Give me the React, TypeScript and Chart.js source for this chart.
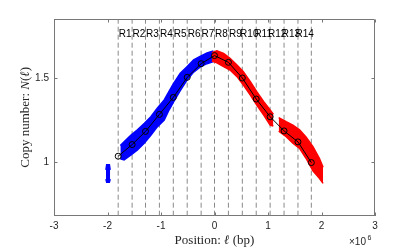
import React, { useEffect, useRef } from 'react';
import { Chart, registerables } from 'chart.js';
Chart.register(...registerables);

// Position unit: 1e6 bp
const SCALE = 1e6;
const xTicks = [-3, -2, -1, 0, 1, 2, 3];
const yTicks = [1, 1.5];
const xRange = [-3, 3];
const yRange = [0.683, 1.85];

// Region boundaries (x 1e6 bp) and labels
const boundaries = [-1.80, -1.54, -1.29, -1.03, -0.77, -0.51, -0.25, 0.0, 0.26, 0.52, 0.78, 1.04, 1.30, 1.56, 1.81];
const regionLabels = ['R1', 'R2', 'R3', 'R4', 'R5', 'R6', 'R7', 'R8', 'R9', 'R10', 'R11', 'R12', 'R13', 'R14'];
const regionLabelY = 1.76;

// Averaged copy number at each boundary
const copyNumbers = [1.036, 1.105, 1.183, 1.284, 1.385, 1.504, 1.585, 1.633, 1.593, 1.500, 1.375, 1.270, 1.186, 1.121, 0.998];

// Blue cloud (left replichore) envelope
const blueX = [-1.76, -1.69, -1.56, -1.44, -1.31, -1.19, -1.07, -0.94, -0.85, -0.77, -0.64, -0.52, -0.39, -0.27, -0.14, -0.02];
const blueTop = [1.10, 1.122, 1.162, 1.192, 1.231, 1.27, 1.32, 1.37, 1.42, 1.465, 1.528, 1.565, 1.607, 1.628, 1.648, 1.660];
const blueBottom = [1.02, 1.014, 1.043, 1.073, 1.115, 1.16, 1.21, 1.25, 1.31, 1.355, 1.425, 1.485, 1.535, 1.565, 1.585, 1.597];

// Small blue blob near -2e6
const blobX = [-2.03, -2.015, -1.965, -1.95];
const blobTop = [0.955, 0.985, 0.985, 0.955];
const blobBottom = [0.90, 0.882, 0.882, 0.90];

// Red cloud (right replichore), first segment
const redAX = [-0.05, 0.045, 0.17, 0.29, 0.42, 0.54, 0.67, 0.79, 0.92, 1.04, 1.10];
const redATop = [1.650, 1.662, 1.646, 1.617, 1.577, 1.537, 1.478, 1.419, 1.359, 1.310, 1.285];
const redABottom = [1.600, 1.590, 1.567, 1.547, 1.508, 1.458, 1.399, 1.340, 1.280, 1.221, 1.215];

// Red cloud, second segment
const redBX = [1.20, 1.34, 1.465, 1.59, 1.71, 1.84, 1.96, 2.03];
const redBTop = [1.265, 1.241, 1.221, 1.192, 1.15, 1.093, 1.024, 0.97];
const redBBottom = [1.185, 1.152, 1.113, 1.083, 1.024, 0.95, 0.905, 0.875];

const SANS = '"Liberation Sans", Arial, Helvetica, sans-serif';
const SERIF = '"Liberation Serif", "Times New Roman", serif';
const TEXT = '#262626';
const FRAME = '#777777';

export default function App() {
  const ref = useRef<HTMLCanvasElement>(null);

  useEffect(() => {
    const canvas = ref.current;
    if (!canvas) return;
    const pts = (xs: number[], ys: number[]) => xs.map((x, i) => ({ x: x * SCALE, y: ys[i] }));
    const band = (xs: number[], top: number[], bottom: number[], color: string, order: number) => [
      { data: pts(xs, top), borderColor: color, backgroundColor: color, borderWidth: 1.5, pointRadius: 0, fill: '+1', order },
      { data: pts(xs, bottom), borderColor: color, backgroundColor: color, borderWidth: 1.5, pointRadius: 0, fill: false, order },
    ];
    const dashed = boundaries.map((b) => ({
      data: [{ x: b * SCALE, y: yRange[0] }, { x: b * SCALE, y: yRange[1] }],
      borderColor: '#8a8a8a', borderWidth: 1, borderDash: [5, 3], pointRadius: 0, fill: false, order: 5,
    }));

    const drawPieces = (ctx: CanvasRenderingContext2D, pieces: [string, boolean][], size: number, cx: number, cy: number) => {
      const widths = pieces.map(([t, it]) => {
        ctx.font = `${it ? 'italic ' : ''}${size}px ${SERIF}`;
        return ctx.measureText(t).width;
      });
      const total = widths.reduce((a, b) => a + b, 0);
      let x = cx - total / 2;
      pieces.forEach(([t, it], i) => {
        ctx.font = `${it ? 'italic ' : ''}${size}px ${SERIF}`;
        ctx.fillText(t, x, cy);
        x += widths[i];
      });
    };

    const decor = {
      id: 'decor',
      afterDraw(chart: any) {
        const { ctx, chartArea: a, scales } = chart;
        const x = scales.x, y = scales.y;
        ctx.save();
        ctx.strokeStyle = FRAME;
        ctx.lineWidth = 1;
        ctx.beginPath();
        const L = Math.round(a.left) + 0.5, R = Math.round(a.right) - 0.5;
        const T = Math.round(a.top) + 0.5, B = Math.round(a.bottom) - 0.5;
        ctx.moveTo(L, T); ctx.lineTo(R, T); ctx.lineTo(R, B);
        xTicks.forEach((v) => {
          const px = Math.round(x.getPixelForValue(v * SCALE)) + 0.5;
          ctx.moveTo(px, B); ctx.lineTo(px, B - 3);
          ctx.moveTo(px, T); ctx.lineTo(px, T + 3);
        });
        yTicks.forEach((v) => {
          const py = Math.round(y.getPixelForValue(v)) + 0.5;
          ctx.moveTo(L, py); ctx.lineTo(L + 3, py);
          ctx.moveTo(R, py); ctx.lineTo(R - 3, py);
        });
        ctx.stroke();

        // region labels
        ctx.fillStyle = '#000';
        ctx.font = `10px ${SANS}`;
        ctx.textAlign = 'center';
        ctx.textBaseline = 'middle';
        regionLabels.forEach((t, i) => {
          const cx = (x.getPixelForValue(boundaries[i] * SCALE) + x.getPixelForValue(boundaries[i + 1] * SCALE)) / 2;
          ctx.fillText(t, cx, y.getPixelForValue(regionLabelY));
        });

        // exponent
        ctx.fillStyle = TEXT;
        ctx.textAlign = 'left';
        ctx.textBaseline = 'alphabetic';
        ctx.font = `10px ${SANS}`;
        ctx.fillText('\u00d710', a.right - 26, 245);
        ctx.font = `7px ${SANS}`;
        ctx.fillText('6', a.right - 7.5, 240);

        // axis titles
        ctx.textAlign = 'left';
        drawPieces(ctx, [['Position: ', false], ['\u2113', true], [' (bp)', false]], 13, (a.left + a.right) / 2, 243.5);
        ctx.save();
        ctx.translate(28.5, (a.top + a.bottom) / 2);
        ctx.rotate(-Math.PI / 2);
        drawPieces(ctx, [['Copy number: ', false], ['N', true], ['(', false], ['\u2113', true], [')', false]], 13, 0, 0);
        ctx.restore();
        ctx.restore();
      },
    };

    const chart = new Chart(canvas, {
      type: 'line',
      data: {
        datasets: [
          {
            data: pts(boundaries, copyNumbers), borderColor: '#000', borderWidth: 1, fill: false,
            pointRadius: 3, pointBorderWidth: 1, pointBorderColor: '#000', pointBackgroundColor: 'rgba(0,0,0,0)', order: 0,
          },
          ...band(redAX, redATop, redABottom, '#ff0000', 1),
          ...band(redBX, redBTop, redBBottom, '#ff0000', 1),
          ...band(blueX, blueTop, blueBottom, '#0000ff', 2),
          ...band(blobX, blobTop, blobBottom, '#0000ff', 2),
          ...dashed,
        ] as any,
      },
      options: {
        animation: false,
        responsive: false,
        maintainAspectRatio: false,
        layout: { padding: { left: 0, right: 40, top: 19, bottom: 0 } },
        plugins: { legend: { display: false }, tooltip: { enabled: false }, filler: { propagate: false } },
        elements: { line: { tension: 0 } },
        scales: {
          x: {
            type: 'linear',
            min: xRange[0] * SCALE,
            max: xRange[1] * SCALE,
            afterBuildTicks: (s: any) => { s.ticks = xTicks.map((v) => ({ value: v * SCALE })); },
            afterFit: (s: any) => { s.height = 33.3; },
            grid: { display: false, drawTicks: false },
            border: { display: true, color: FRAME, width: 1 },
            ticks: {
              callback: (v: any) => String(Math.round(Number(v) / SCALE)),
              font: { family: SANS, size: 10 }, color: TEXT, padding: 5, maxRotation: 0, autoSkip: false,
            },
          },
          y: {
            type: 'linear',
            min: yRange[0],
            max: yRange[1],
            afterBuildTicks: (s: any) => { s.ticks = yTicks.map((v) => ({ value: v })); },
            afterFit: (s: any) => { s.width = 54; },
            grid: { display: false, drawTicks: false },
            border: { display: true, color: FRAME, width: 1 },
            ticks: {
              callback: (v: any) => String(v),
              font: { family: SANS, size: 10 }, color: TEXT, padding: 5, autoSkip: false,
            },
          },
        },
      } as any,
      plugins: [decor],
    });
    return () => chart.destroy();
  }, []);

  return (
    <div style={{ position: 'fixed', left: 0, top: 0, width: 415, height: 249, background: '#fff' }}>
      <canvas ref={ref} width={415} height={249} style={{ display: 'block', width: 415, height: 249 }} />
    </div>
  );
}
